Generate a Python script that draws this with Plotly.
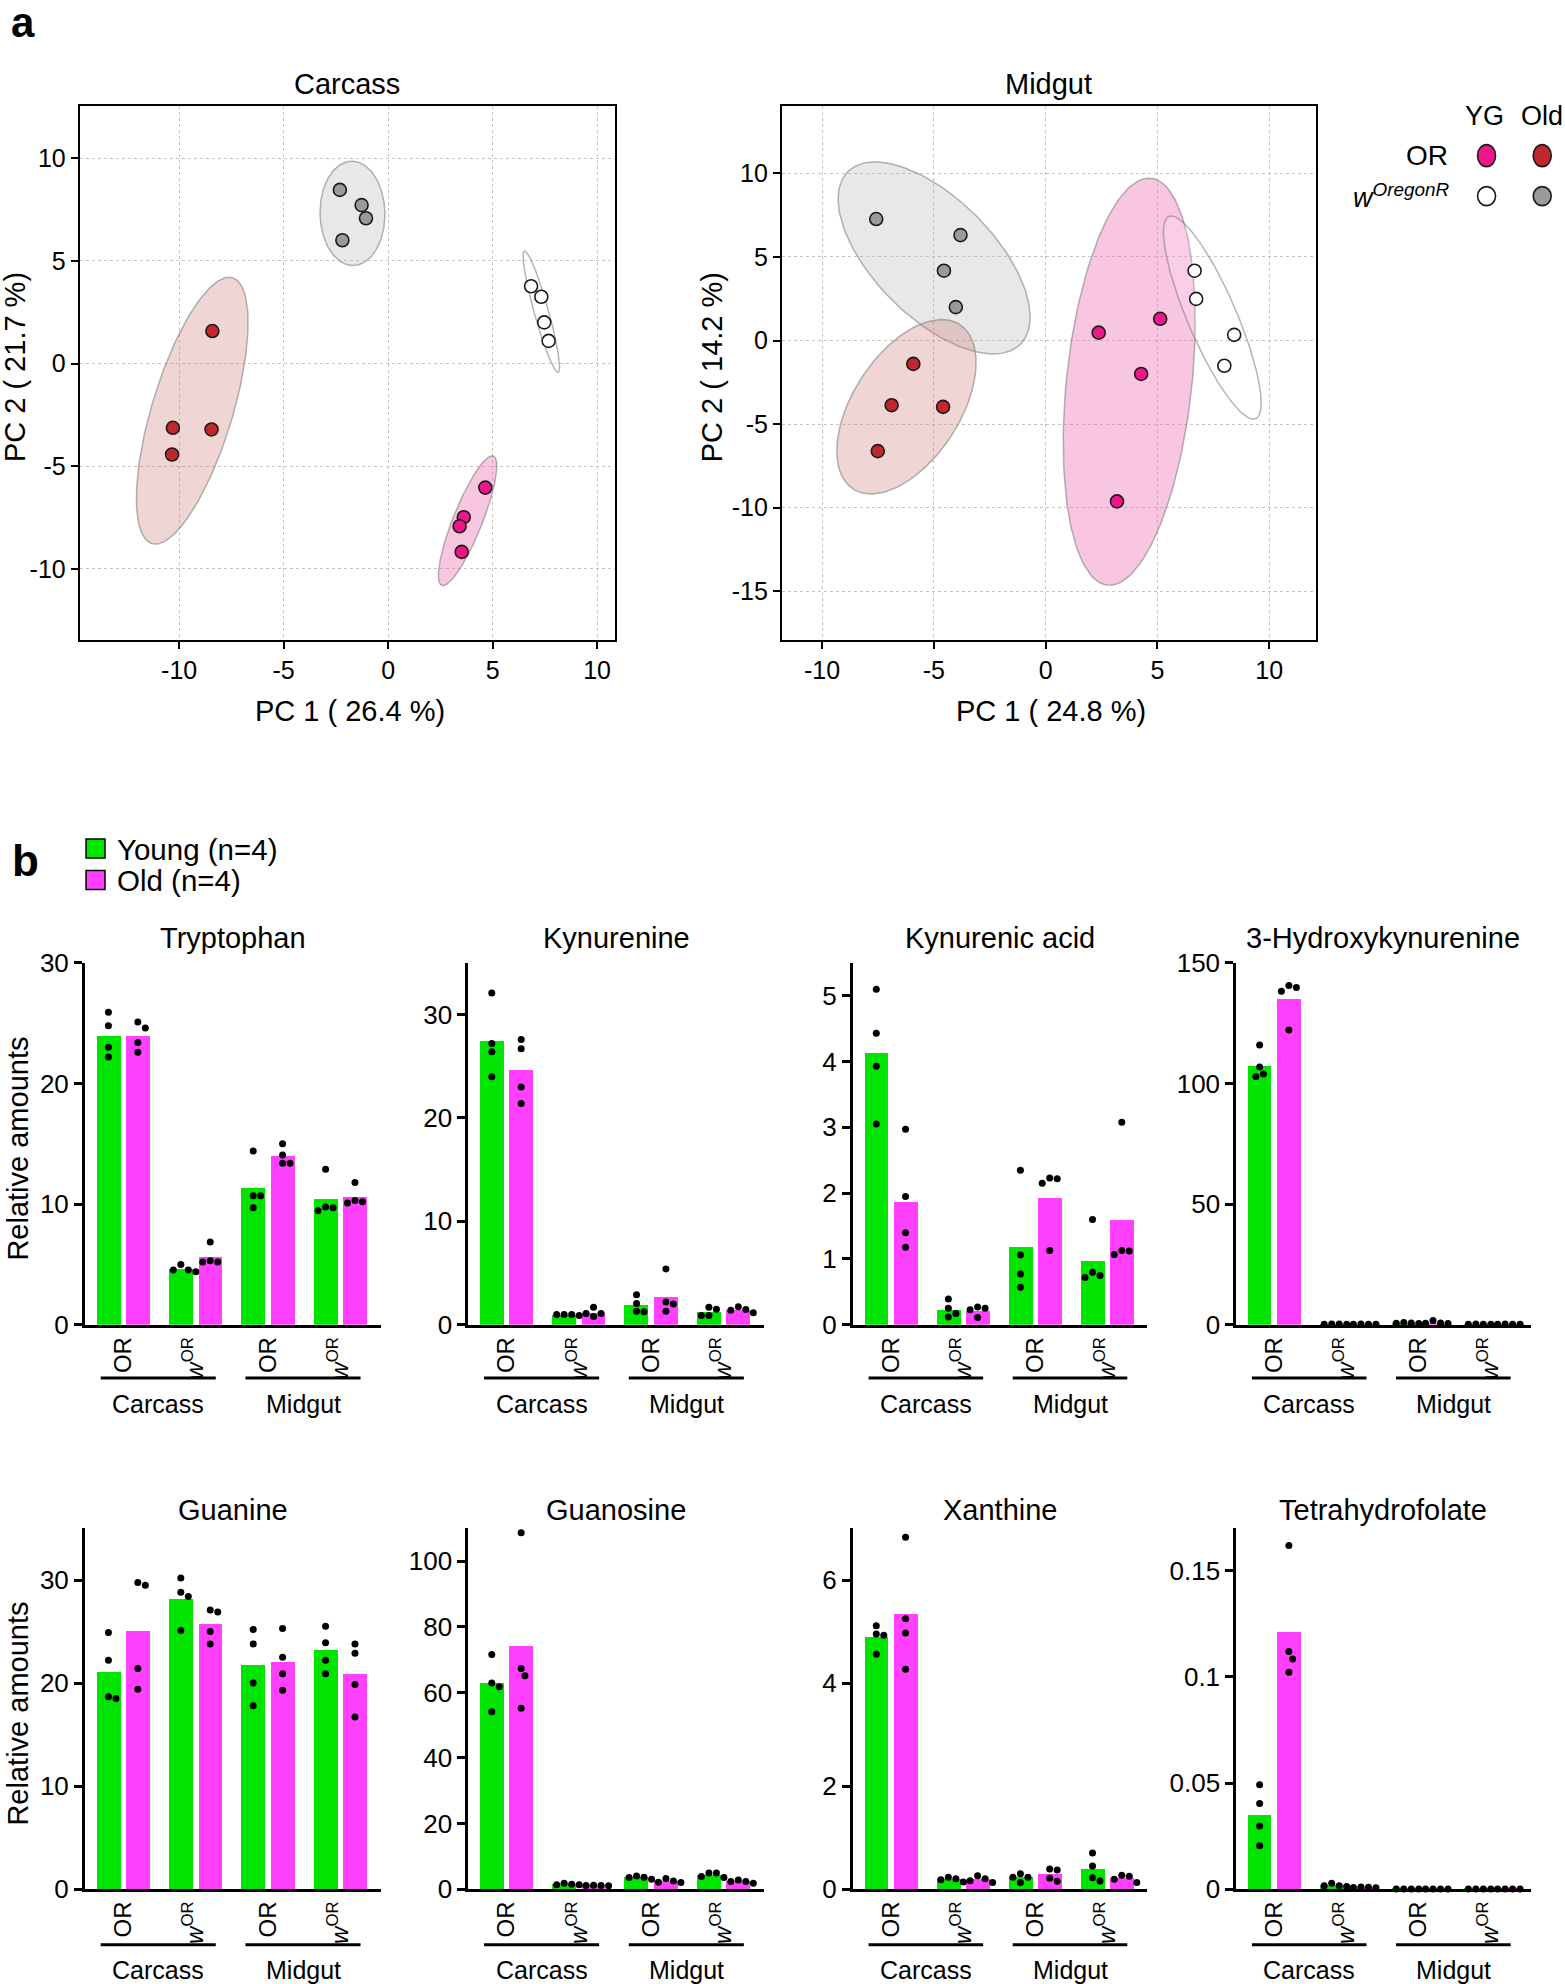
import numpy as np
import plotly.graph_objects as go

FONT = "Liberation Sans, Arial, Helvetica, sans-serif"
W, H = 1565, 1984
SW, SH = 1237.0, 1568.0  # layout grid (reference read at this scale)


def fx(p):
    return p / SW


def fy(p):
    return 1 - p / SH


# ------------------------------------------------------------------ PCA data
carcass_or_yg_pc1 = [4.65, 3.62, 3.42, 3.52]
carcass_or_yg_pc2 = [-6.04, -7.48, -7.92, -9.17]
carcass_or_old_pc1 = [-8.41, -10.30, -8.45, -10.34]
carcass_or_old_pc2 = [1.58, -3.13, -3.21, -4.43]
carcass_w_yg_pc1 = [6.84, 7.33, 7.47, 7.68]
carcass_w_yg_pc2 = [3.76, 3.25, 2.00, 1.10]
carcass_w_old_pc1 = [-2.31, -1.27, -1.06, -2.19]
carcass_w_old_pc2 = [8.45, 7.71, 7.07, 6.00]

midgut_or_yg_pc1 = [2.37, 5.12, 4.27, 3.19]
midgut_or_yg_pc2 = [0.47, 1.30, -2.00, -9.63]
midgut_or_old_pc1 = [-5.92, -6.89, -4.59, -7.51]
midgut_or_old_pc2 = [-1.40, -3.87, -3.97, -6.62]
midgut_w_yg_pc1 = [6.66, 6.73, 8.43, 7.99]
midgut_w_yg_pc2 = [4.18, 2.49, 0.34, -1.51]
midgut_w_old_pc1 = [-7.58, -3.81, -4.55, -4.02]
midgut_w_old_pc2 = [7.27, 6.31, 4.18, 2.00]

pca_var_carcass = ["PC 1 ( 26.4 %)", "PC 2 ( 21.7 %)"]
pca_var_midgut = ["PC 1 ( 24.8 %)", "PC 2 ( 14.2 %)"]
pca_tick_vals = [-15, -10, -5, 0, 5, 10]
pca_tick_text = ["-15", "-10", "-5", "0", "5", "10"]

# ------------------------------------------------------------------ bar data
cat_labels = ["OR", "<i>w</i><sup>OR</sup>", "OR", "<i>w</i><sup>OR</sup>"]
tissue_labels = ["Carcass", "Midgut"]
series_labels = ["Young (n=4)", "Old (n=4)"]

trp_young = [[25.9, 24.8, 23.0, 22.2], [5.0, 4.4, 4.55, 4.55], [14.4, 10.7, 10.7, 9.7], [12.9, 9.45, 9.77, 9.7]]
trp_old = [[24.6, 25.1, 23.4, 22.6], [6.86, 5.2, 5.3, 5.2], [15.0, 14.07, 13.4, 13.4], [11.8, 10.3, 10.1, 10.2]]

kyn_young = [[32.1, 27.2, 26.4, 24.0], [0.9, 1.0, 1.0, 1.0], [2.9, 2.06, 1.25, 1.3], [0.9, 1.5, 1.7, 0.9]]
kyn_old = [[27.6, 26.7, 23.0, 21.4], [1.7, 0.8, 1.1, 1.1], [5.4, 2.2, 1.3, 2.0], [1.16, 1.74, 1.48, 1.4]]

ka_young = [[5.1, 4.43, 3.93, 3.05], [0.39, 0.25, 0.12, 0.17], [2.35, 1.06, 0.77, 0.57], [1.6, 0.72, 0.8, 0.75]]
ka_old = [[2.97, 1.95, 1.40, 1.18], [0.23, 0.27, 0.25, 0.11], [2.15, 2.23, 2.22, 1.13], [3.08, 1.07, 1.13, 1.12]]

hk_young = [[116.0, 106.9, 102.9, 103.9], [0.3, 0.2, 0.25, 0.3], [0.5, 0.9, 0.6, 0.7], [0.2, 0.25, 0.2, 0.3]]
hk_old = [[138.2, 140.6, 139.8, 122.2], [0.2, 0.3, 0.25, 0.2], [0.5, 1.8, 0.7, 0.6], [0.2, 0.3, 0.25, 0.2]]

gua_young = [[24.9, 22.2, 18.5, 18.66], [30.2, 28.4, 28.8, 25.1], [25.2, 23.8, 20.0, 17.8], [25.5, 23.9, 22.2, 20.9]]
gua_old = [[29.5, 29.75, 21.4, 19.4], [26.9, 27.1, 25.0, 23.8], [25.3, 22.5, 20.9, 19.3], [23.8, 22.9, 19.85, 16.7]]

guo_young = [[71.6, 62.9, 61.7, 54.1], [1.3, 1.8, 1.5, 1.3], [3.0, 4.0, 3.65, 3.55], [3.55, 4.9, 3.86, 4.9]]
guo_old = [[108.7, 67.3, 65.1, 55.2], [1.1, 1.0, 1.2, 1.1], [2.0, 3.25, 2.1, 2.5], [1.8, 2.8, 2.3, 2.3]]

xan_young = [[5.11, 4.93, 4.95, 4.56], [0.136, 0.23, 0.18, 0.2], [0.30, 0.13, 0.23, 0.23], [0.70, 0.45, 0.155, 0.22]]
xan_old = [[6.83, 5.25, 4.97, 4.27], [0.26, 0.13, 0.2, 0.16], [0.37, 0.39, 0.15, 0.21], [0.27, 0.13, 0.25, 0.19]]

thf_young = [[0.0492, 0.0404, 0.0297, 0.0204], [0.0012, 0.0027, 0.0016, 0.0016],
             [0.0001, 0.0001, 0.0001, 0.0001], [0.0001, 0.0001, 0.0001, 0.0001]]
thf_old = [[0.162, 0.112, 0.1085, 0.1022], [0.0006, 0.0010, 0.0009, 0.0008],
           [0.0001, 0.0001, 0.0001, 0.0001], [0.0001, 0.0001, 0.0001, 0.0001]]

bar_panels = [
    ("Tryptophan", trp_young, trp_old, 30, 10),
    ("Kynurenine", kyn_young, kyn_old, 35, 10),
    ("Kynurenic acid", ka_young, ka_old, 5.5, 1),
    ("3-Hydroxykynurenine", hk_young, hk_old, 150, 50),
    ("Guanine", gua_young, gua_old, 35, 10),
    ("Guanosine", guo_young, guo_old, 110, 20),
    ("Xanthine", xan_young, xan_old, 7, 2),
    ("Tetrahydrofolate", thf_young, thf_old, 0.17, 0.05),
]

# ------------------------------------------------------------------ styles
PINK = "#F0168A"
DRED = "#C1272D"
GREY = "#9A9A9A"
WHITE = "#FFFFFF"
GREEN = "#00E400"
MAGENTA = "#FF40FF"

fig = go.Figure()
layout = dict(
    width=W, height=H, margin=dict(l=0, r=0, t=0, b=0, pad=0, autoexpand=False),
    paper_bgcolor="white", plot_bgcolor="white", showlegend=False,
    font=dict(family=FONT, color="black"),
)
annotations = []
shapes = []


def ann(text, x, y, size, **kw):
    d = dict(text=text, x=x, y=y, xref=kw.pop("xref", "paper"), yref=kw.pop("yref", "paper"),
             showarrow=False, font=dict(family=FONT, size=size, color="black"),
             xanchor=kw.pop("xanchor", "center"), yanchor=kw.pop("yanchor", "middle"))
    d.update(kw)
    annotations.append(d)


def ellipse(x, y, n=160, conf_chi2=5.991):
    x = np.asarray(x, float)
    y = np.asarray(y, float)
    cov = np.cov(x, y)
    vals, vecs = np.linalg.eigh(cov)
    t = np.linspace(0, 2 * np.pi, n)
    circ = np.vstack([np.cos(t), np.sin(t)]) * np.sqrt(np.clip(vals, 0, None))[:, None] * np.sqrt(conf_chi2)
    pts = vecs @ circ
    return x.mean() + pts[0], y.mean() + pts[1]


# ------------------------------------------------------------------ PCA panels
pca_panels = [
    dict(title="Carcass", xa="x", ya="y", dom=(63, 486), xr=[-14.76, 10.85], yr=[-13.47, 12.52],
         labels=pca_var_carcass, ytitle_x=12,
         groups=[(carcass_w_old_pc1, carcass_w_old_pc2, GREY, "rgba(178,178,178,0.30)"),
                 (carcass_or_old_pc1, carcass_or_old_pc2, DRED, "rgba(202,115,108,0.30)"),
                 (carcass_or_yg_pc1, carcass_or_yg_pc2, PINK, "rgba(240,112,182,0.40)"),
                 (carcass_w_yg_pc1, carcass_w_yg_pc2, WHITE, "rgba(255,255,255,0.15)")]),
    dict(title="Midgut", xa="x2", ya="y2", dom=(618, 1040), xr=[-11.8, 12.08], yr=[-17.94, 14.02],
         labels=pca_var_midgut, ytitle_x=563,
         groups=[(midgut_w_old_pc1, midgut_w_old_pc2, GREY, "rgba(178,178,178,0.30)"),
                 (midgut_or_old_pc1, midgut_or_old_pc2, DRED, "rgba(202,115,108,0.30)"),
                 (midgut_or_yg_pc1, midgut_or_yg_pc2, PINK, "rgba(240,112,182,0.40)"),
                 (midgut_w_yg_pc1, midgut_w_yg_pc2, WHITE, "rgba(255,255,255,0.15)")]),
]

for i, p in enumerate(pca_panels):
    suffix = "" if i == 0 else str(i + 1)
    axis_common = dict(showgrid=True, gridcolor="#c4c4c4", griddash="dot", gridwidth=1,
                       zeroline=False, showline=True, mirror=True, linecolor="black", linewidth=2,
                       ticks="outside", ticklen=7, tickwidth=2, tickcolor="black",
                       tickfont=dict(family=FONT, size=25, color="black"),
                       tickmode="array", tickvals=pca_tick_vals, ticktext=pca_tick_text)
    layout["xaxis" + suffix] = dict(axis_common, domain=[fx(p["dom"][0]), fx(p["dom"][1])],
                                    range=p["xr"], anchor="y" + suffix)
    layout["yaxis" + suffix] = dict(axis_common, domain=[fy(506), fy(84)], range=p["yr"],
                                    anchor="x" + suffix)
    for (gx, gy, col, fill) in p["groups"]:
        ex, ey = ellipse(gx, gy)
        fig.add_trace(go.Scatter(x=ex, y=ey, mode="lines", fill="toself", fillcolor=fill,
                                 line=dict(color="rgba(120,120,120,0.55)", width=1.5),
                                 xaxis=p["xa"], yaxis=p["ya"], hoverinfo="skip"))
    for (gx, gy, col, fill) in p["groups"]:
        fig.add_trace(go.Scatter(x=gx, y=gy, mode="markers",
                                 marker=dict(size=13, color=col, line=dict(color="#1a1a1a", width=1.6)),
                                 xaxis=p["xa"], yaxis=p["ya"]))
    cx = (p["dom"][0] + p["dom"][1]) / 2
    ann(p["title"], fx(cx), fy(66), 29)
    ann(p["labels"][0], fx(cx + 2), fy(562), 29)
    ann(p["labels"][1], fx(p["ytitle_x"]), fy(290), 29, textangle=-90)

# PCA legend
ann("YG", fx(1173), fy(92), 27)
ann("Old", fx(1219), fy(92), 27)
ann("OR", fx(1146), fy(123), 28, xanchor="right")
ann("<i>w</i><sup><i>OregonR</i></sup>", fx(1148), fy(155), 27, xanchor="right")
legend_marks = [(1175, 123, PINK, 9, 11), (1219, 123, DRED, 9, 11),
                (1175, 155, WHITE, 9, 9.5), (1219, 155, GREY, 9, 9.5)]
for (lx, ly, col, rx, ry) in legend_marks:
    shapes.append(dict(type="circle", xref="paper", yref="paper", xsizemode="pixel", ysizemode="pixel",
                       xanchor=fx(lx), yanchor=fy(ly), x0=-rx, x1=rx, y0=-ry, y1=ry,
                       fillcolor=col, line=dict(color="#1a1a1a", width=1.6)))

# panel letters
ann("<b>a</b>", fx(18), fy(18), 42)
ann("<b>b</b>", fx(20), fy(680), 44)

# bar legend
for (yy, col, lab) in [(670, GREEN, series_labels[0]), (695, MAGENTA, series_labels[1])]:
    shapes.append(dict(type="rect", xref="paper", yref="paper", x0=fx(68), x1=fx(83),
                       y0=fy(yy + 8), y1=fy(yy - 7), fillcolor=col, line=dict(color="black", width=1.5)))
    ann(lab, fx(91), fy(yy + 1), 29.5, xanchor="left")

# ------------------------------------------------------------------ bar panels
col_dom = [(67, 301), (370, 604), (674, 907), (977, 1210)]
row_dom = [(761, 1047), (1208, 1493)]
row_title_y = [741, 1193]
row_line_y = [1089, 1537]
row_tissue_y = [1110, 1557]
XR = [-0.53, 3.56]
OFF = 0.203
BW = 0.33
DOT = 7


def swarm(vals, center, ppx, ppy, d):
    vals = np.asarray(vals, float)
    order = np.argsort(-vals)
    placed = []
    xs = np.zeros(len(vals))
    cands = [0]
    for j in range(1, 12):
        cands += [j, -j]
    for i in order:
        yv = vals[i] * ppy
        xo = 0.0
        for c in cands:
            xo = c * 0.5 * d
            if all((xo - px) ** 2 + (yv - py) ** 2 >= d * d for px, py in placed):
                break
        placed.append((xo, yv))
        xs[i] = center + xo / ppx
    return xs


for k, (name, young, old, ymax, dtick) in enumerate(bar_panels):
    idx = k + 3
    r, c = divmod(k, 4)
    xd = col_dom[c]
    yd = row_dom[r]
    xa, ya = "x%d" % idx, "y%d" % idx
    layout["xaxis%d" % idx] = dict(domain=[fx(xd[0]), fx(xd[1])], range=XR, anchor=ya,
                                   showline=True, linecolor="black", linewidth=2.5, ticks="",
                                   showgrid=False, zeroline=False, tickvals=[0, 1, 2, 3],
                                   ticktext=cat_labels, tickangle=-90,
                                   tickfont=dict(family=FONT, size=24, color="black"))
    layout["yaxis%d" % idx] = dict(domain=[fy(yd[1]), fy(yd[0])], range=[0, ymax], anchor=xa,
                                   showline=True, linecolor="black", linewidth=2.5, ticks="outside",
                                   ticklen=8, tickwidth=2.5, tickcolor="black", dtick=dtick, tick0=0,
                                   showgrid=False, zeroline=False,
                                   tickfont=dict(family=FONT, size=26, color="black"))
    plot_w = (xd[1] - xd[0]) * W / SW
    plot_h = (yd[1] - yd[0]) * H / SH
    ppx = plot_w / (XR[1] - XR[0])
    ppy = plot_h / ymax
    for series, off, col in [(young, -OFF, GREEN), (old, OFF, MAGENTA)]:
        xpos = [g + off for g in range(4)]
        means = [float(np.mean(s)) for s in series]
        fig.add_trace(go.Bar(x=xpos, y=means, width=BW, marker=dict(color=col, line=dict(width=0)),
                             xaxis=xa, yaxis=ya))
        dx, dy = [], []
        for g, s in enumerate(series):
            dx.extend(swarm(s, g + off, ppx, ppy, DOT + 0.5))
            dy.extend(s)
        fig.add_trace(go.Scatter(x=dx, y=dy, mode="markers", marker=dict(size=DOT, color="black"),
                                 xaxis=xa, yaxis=ya, cliponaxis=False))
    ann(name, fx((xd[0] + xd[1]) / 2), fy(row_title_y[r]), 29)
    for t, (g0, g1) in enumerate([(0, 1), (2, 3)]):
        shapes.append(dict(type="line", xref=xa, yref="paper", x0=g0 - 0.31, x1=g1 + 0.28,
                           y0=fy(row_line_y[r]), y1=fy(row_line_y[r]),
                           line=dict(color="black", width=3)))
        ann(tissue_labels[t], (g0 + g1) / 2 - 0.015, fy(row_tissue_y[r]), 25, xref=xa)
    if c == 0:
        ann("Relative amounts", fx(14), fy((yd[0] + yd[1]) / 2 + 4), 29, textangle=-90)

layout["annotations"] = annotations
layout["shapes"] = shapes
layout["bargap"] = 0
fig.update_layout(**layout)
fig.write_html("out.html", config={"displayModeBar": False},
               post_script="document.body.style.margin='0';")
